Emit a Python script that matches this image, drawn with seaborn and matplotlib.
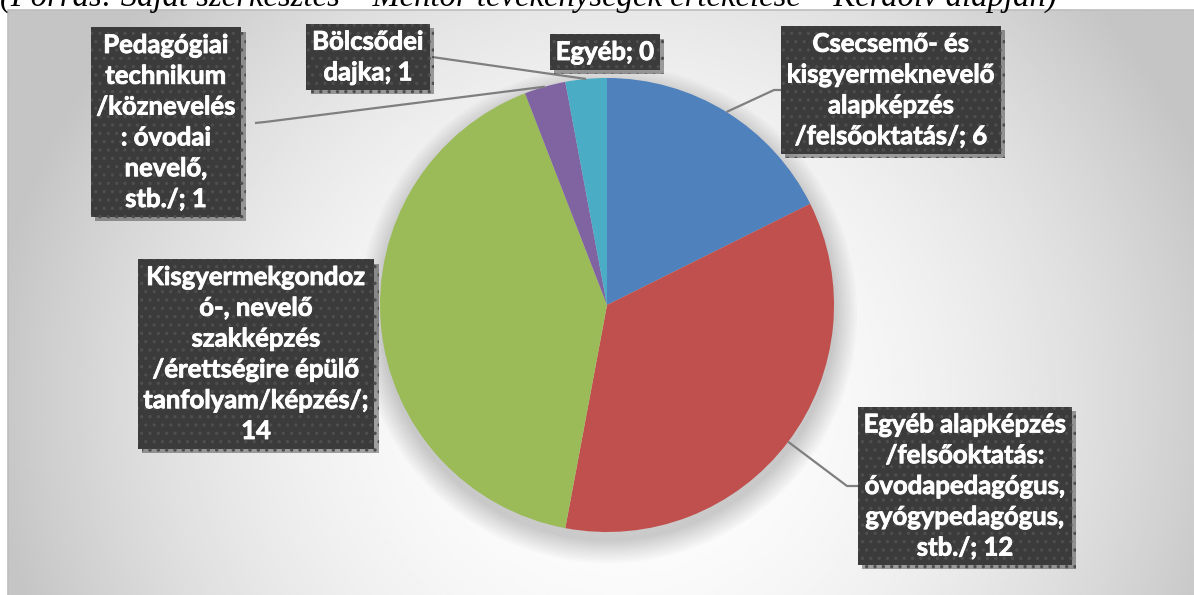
import numpy as np
import matplotlib
matplotlib.use("Agg")
import matplotlib.pyplot as plt
import matplotlib.patheffects as pe
import seaborn as sns
from matplotlib.patches import Circle, Rectangle

# ---------------- data ----------------
categories = [
    "Csecsemő- és\nkisgyermeknevelő\nalapképzés\n/felsőoktatás/",
    "Egyéb alapképzés\n/felsőoktatás:\nóvodapedagógus,\ngyógypedagógus,\nstb./",
    "Kisgyermekgondoz\nó-, nevelő\nszakképzés\n/érettségire épülő\ntanfolyam/képzés/",
    "Pedagógiai\ntechnikum\n/köznevelés\n: óvodai\nnevelő,\nstb./",
    "Bölcsődei\ndajka",
    "Egyéb",
]
values = [6, 12, 14, 1, 1, 0]
value_sep = [" ", " ", "\n", " ", " ", " "]
colors = ["#4F81BD", "#C0504D", "#9BBB59", "#8064A2", "#4BACC6", "#F79646"]
caption = "(Forrás: Saját szerkesztés – Mentor tevékenységek értékelése – Kérdőív alapján)"

# ---------------- layout (pixels, y up) ----------------
W, H = 1194, 595
center = (607, 290)
radius = 227
label_xy = [(891, 505), (965, 109), (256, 241), (166, 473), (368, 538), (605, 543)]
leader_start = [(783, 505), (858, 109), None, (255, 472), (432, 538), None]
leader_elbow = [(774, 505), (847, 109), None, (265, 473), None, None]

sns.set_theme(style="white")
plt.rcParams["font.family"] = ["Lato", "DejaVu Sans"]
plt.rcParams["hatch.linewidth"] = 1.2

fig = plt.figure(figsize=(W / 100, H / 100), dpi=100)
fig.patch.set_facecolor("white")
ax = fig.add_axes([0, 0, 1, 1])

# background gradient of the chart area
x0, y_top = 8, 585
xs = np.linspace(x0, W, 400)
ys = np.linspace(0, y_top, 200)
XX, YY = np.meshgrid(xs, ys)
r2 = ((XX - 620) / 620) ** 2 + ((YY - 195) / 600) ** 2
grad = np.clip(1 - 0.22 * r2, 0.77, 1.0)
ax.imshow(grad, extent=(x0, W, 0, y_top), origin="lower", cmap="gray",
          vmin=0, vmax=1, aspect="auto", zorder=0, interpolation="bilinear")
ax.add_patch(Rectangle((x0, -5), W, y_top + 5, fill=False, edgecolor="#bdbdbd",
                       linewidth=1.2, zorder=1))

# soft shadow under the pie
for k in range(10):
    ax.add_patch(Circle((center[0] + 1, center[1] - 9), radius + 22 - 2.4 * k,
                        facecolor="black", edgecolor="none", alpha=0.018, zorder=2))

wedges, _ = ax.pie(values, colors=colors, startangle=90, counterclock=False,
                   center=center, radius=radius, frame=False,
                   wedgeprops=dict(linewidth=0, zorder=3))
for w in wedges:
    w.set_zorder(3)

ax.set_xlim(0, W)
ax.set_ylim(0, H)
ax.set_aspect("auto")
ax.axis("off")

# labels
for i, (cat, val) in enumerate(zip(categories, values)):
    txt = f"{cat};{value_sep[i]}{val}"
    lx, ly = label_xy[i]
    t = ax.text(lx, ly, txt, color="white", zorder=6, ha="center", va="center",
                fontsize=18.5, fontweight="bold", linespacing=1.34,
                multialignment="center",
                bbox=dict(boxstyle="square,pad=0.22", facecolor="#3b3b3b",
                          edgecolor="#4e4e4e", hatch="..", linewidth=0))
    t.set_path_effects([pe.withStroke(linewidth=0.6, foreground="white")])
    t.get_bbox_patch().set_path_effects(
        [pe.SimplePatchShadow(offset=(3, -3), shadow_rgbFace="black", alpha=0.35),
         pe.Normal()])
    if leader_start[i] is not None:
        w = wedges[i]
        mid = np.deg2rad((w.theta1 + w.theta2) / 2)
        px = center[0] + radius * np.cos(mid)
        py = center[1] + radius * np.sin(mid)
        pts = [leader_start[i]]
        if leader_elbow[i] is not None:
            pts.append(leader_elbow[i])
        pts.append((px, py))
        pts = np.array(pts)
        ax.plot(pts[:, 0], pts[:, 1], color="#7f7f7f", linewidth=1.6, zorder=4,
                solid_capstyle="butt")

# caption (cut off at the top as in the source)
ax.text(0, 589, caption, ha="left", va="baseline", fontsize=23.5, style="italic",
        family=["Liberation Serif", "DejaVu Serif"], color="black", zorder=7)

fig.savefig("out.png", dpi=100, facecolor="white")
